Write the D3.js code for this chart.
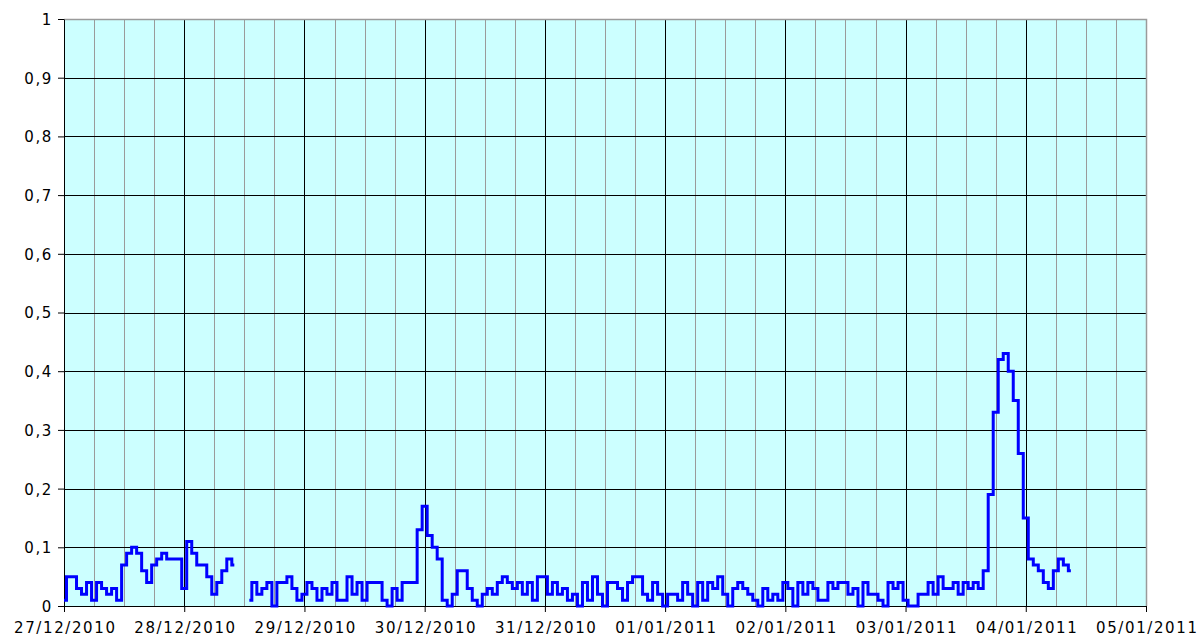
<!DOCTYPE html>
<html>
<head>
<meta charset="utf-8">
<script src="https://cdn.jsdelivr.net/npm/d3@7"></script>
<style>
  body { margin: 0; background: #fff; }
  text { font-family: Verdana, "DejaVu Sans", sans-serif; }
</style>
</head>
<body>
<div class="chart"></div>
<script>
// hourly readings, one array per day (null = no data)
const startDate = new Date(2010, 11, 27, 0, 0);
const endDate = new Date(2011, 0, 5, 0, 0);

const day27 = [0.01,0.05,0.05,0.03,0.02,0.04,0.01,0.04,0.03,0.02,0.03,0.01,0.07,0.09,0.10,0.09,0.06,0.04,0.07,0.08,0.09,0.08,0.08,0.08];
const day28 = [0.03,0.11,0.09,0.07,0.07,0.05,0.02,0.04,0.06,0.08,0.07,null,null,0.01,0.04,0.02,0.03,0.04,0.00,0.04,0.04,0.05,0.03,0.01];
const day29 = [0.02,0.04,0.03,0.01,0.03,0.02,0.04,0.01,0.01,0.05,0.02,0.04,0.01,0.04,0.04,0.04,0.01,0.00,0.03,0.01,0.04,0.04,0.04,0.13];
const day30 = [0.17,0.12,0.10,0.08,0.01,0.00,0.02,0.06,0.06,0.03,0.01,0.00,0.02,0.03,0.02,0.04,0.05,0.04,0.03,0.04,0.02,0.04,0.01,0.05];
const day31 = [0.05,0.02,0.04,0.02,0.03,0.01,0.02,0.00,0.04,0.01,0.05,0.02,0.00,0.04,0.04,0.03,0.01,0.04,0.05,0.05,0.02,0.01,0.04,0.02];
const day01 = [0.00,0.02,0.02,0.01,0.04,0.02,0.00,0.04,0.01,0.04,0.03,0.05,0.02,0.00,0.03,0.04,0.03,0.02,0.01,0.00,0.03,0.01,0.02,0.01];
const day02 = [0.04,0.03,0.00,0.04,0.02,0.04,0.03,0.01,0.01,0.04,0.03,0.04,0.04,0.02,0.03,0.00,0.04,0.02,0.02,0.01,0.00,0.04,0.03,0.04];
const day03 = [0.01,0.00,0.00,0.02,0.02,0.04,0.02,0.05,0.03,0.03,0.04,0.02,0.04,0.03,0.04,0.03,0.06,0.19,0.33,0.42,0.43,0.40,0.35,0.26];
const day04 = [0.15,0.08,0.07,0.06,0.04,0.03,0.06,0.08,0.07,0.06];

const yTicks = [0,0.1,0.2,0.3,0.4,0.5,0.6,0.7,0.8,0.9,1];
const yTickLabels = ["0","0,1","0,2","0,3","0,4","0,5","0,6","0,7","0,8","0,9","1"];

const values = [].concat(day27, day28, day29, day30, day31, day01, day02, day03, day04);
const data = values.map((v, i) => ({date: d3.timeHour.offset(startDate, i), value: v}));

const width = 1201, height = 639;
const plotLeft = 64, plotRight = 1146, plotTop = 19, plotBottom = 606;

const svg = d3.select('.chart')
    .append('svg')
    .attr('width', width)
    .attr('height', height);

const x = d3.scaleTime().domain([startDate, endDate]).range([plotLeft, plotRight]);
const y = d3.scaleLinear().domain([0, 1]).range([plotBottom, plotTop]);

const px = v => Math.round(v) + 0.5;

// plot background
svg.append('rect')
    .attr('x', plotLeft).attr('y', plotTop)
    .attr('width', plotRight - plotLeft).attr('height', plotBottom - plotTop)
    .attr('fill', '#ccffff');

// minor vertical grid every 6 hours
svg.append('g').selectAll('line')
    .data(d3.timeHour.every(6).range(startDate, endDate).filter(d => d.getHours() !== 0))
    .enter().append('line')
    .attr('x1', d => px(x(d))).attr('x2', d => px(x(d)))
    .attr('y1', plotTop).attr('y2', plotBottom)
    .attr('stroke', '#9a9a9a')
    .attr('stroke-width', 1.3)
    .attr('shape-rendering', 'crispEdges');

// horizontal grid
svg.append('g').selectAll('line')
    .data(yTicks.slice(1, -1))
    .enter().append('line')
    .attr('x1', plotLeft).attr('x2', plotRight)
    .attr('y1', d => px(y(d))).attr('y2', d => px(y(d)))
    .attr('stroke', '#000')
    .attr('shape-rendering', 'crispEdges');

// daily vertical grid
svg.append('g').selectAll('line')
    .data(d3.timeDay.range(d3.timeDay.offset(startDate, 1), endDate))
    .enter().append('line')
    .attr('x1', d => px(x(d))).attr('x2', d => px(x(d)))
    .attr('y1', plotTop).attr('y2', plotBottom)
    .attr('stroke', '#000')
    .attr('shape-rendering', 'crispEdges');

// gray border top / right
svg.append('path')
    .attr('d', `M${plotLeft},${px(plotTop)}H${px(plotRight)}V${plotBottom}`)
    .attr('fill', 'none')
    .attr('stroke', '#9a9a9a')
    .attr('stroke-width', 1.5);

// axes
const yAxis = svg.append('g')
    .attr('transform', `translate(${Math.round(plotLeft)},0)`)
    .call(d3.axisLeft(y).tickValues(yTicks).tickSize(6).tickSizeOuter(0)
        .tickFormat((d, i) => yTickLabels[i]));

const xAxis = svg.append('g')
    .attr('transform', `translate(0,${Math.round(plotBottom)})`)
    .call(d3.axisBottom(x).ticks(d3.timeDay.every(1)).tickSize(6).tickSizeOuter(0)
        .tickFormat(d3.timeFormat('%d/%m/%Y')));

svg.selectAll('.domain').attr('stroke', '#000');
svg.selectAll('.tick line').attr('stroke', '#000');
svg.selectAll('.tick text')
    .attr('fill', '#000')
    .style('font-size', '15px')
    .style('letter-spacing', '1.6px');

yAxis.selectAll('.tick text').attr('x', -11).attr('dy', '0.36em');
xAxis.selectAll('.tick text').attr('y', 16).attr('dy', '0.71em').attr('dx', '0.8px');

// series line
const line = d3.line()
    .defined(d => d.value !== null)
    .curve(d3.curveStep)
    .x(d => x(d.date))
    .y(d => y(d.value));

svg.append('path')
    .datum(data)
    .attr('d', line)
    .attr('fill', 'none')
    .attr('stroke', '#0000ff')
    .attr('stroke-width', 3);
</script>
</body>
</html>
